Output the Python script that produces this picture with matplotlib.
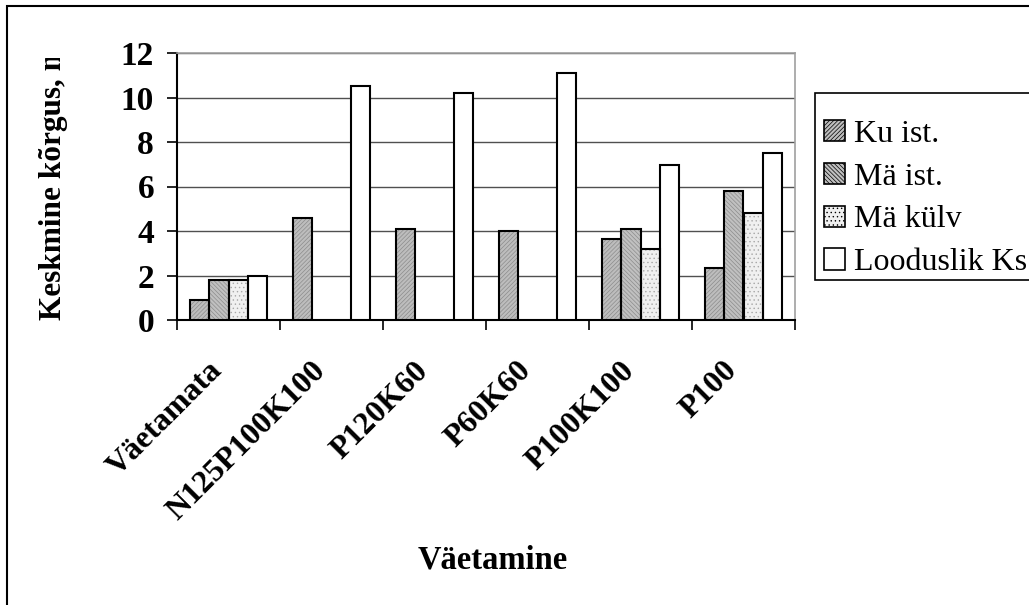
import numpy as np
import matplotlib
matplotlib.use("Agg")
import matplotlib.pyplot as plt
from matplotlib.patches import Rectangle, Patch
from matplotlib.ticker import FixedLocator

# andmed (loetud jooniselt)
kategooriad = ['Väetamata', 'N125P100K100', 'P120K60', 'P60K60', 'P100K100', 'P100']
ku_ist = [0.9, 4.6, 4.1, 4.0, 3.65, 2.35]
ma_ist = [1.8, 0, 0, 0, 4.1, 5.8]
ma_kulv = [1.8, 0, 0, 0, 3.2, 4.8]
looduslik = [2.0, 10.5, 10.2, 11.1, 6.95, 7.5]
seeria_nimed = ['Ku ist.', 'Mä ist.', 'Mä külv', 'Looduslik Ks']
y_ticks = [0, 2, 4, 6, 8, 10, 12]

plt.rcParams['font.family'] = ['Liberation Serif', 'DejaVu Serif']
plt.rcParams['hatch.linewidth'] = 0.5

W, H = 1029, 605
fig = plt.figure(figsize=(W / 100, H / 100), dpi=100)
ax = fig.add_axes([177 / W, 1 - 320 / H, (795 - 177) / W, (320 - 53) / H])

# stiilid: (täide, viirutus, viirutuse värv)
stiilid = [
    ('#bdbdbd', '////////', '#8c8c8c'),
    ('#c0c0c0', '\\\\\\\\\\\\\\\\', '#8c8c8c'),
    ('#f0f0f0', '....', '#a8a8a8'),
    ('white', None, None),
]

x = np.arange(len(kategooriad))
laius = 0.185
seeriad = [ku_ist, ma_ist, ma_kulv, looduslik]
for i, vaartused in enumerate(seeriad):
    taide, viir, vvarv = stiilid[i]
    xs = [xx + (i - 1.5) * laius for xx, v in zip(x, vaartused) if v > 0]
    vs = [v for v in vaartused if v > 0]
    if viir:
        ax.bar(xs, vs, laius, color=taide, hatch=viir, edgecolor=vvarv,
               linewidth=0, zorder=3)
    else:
        ax.bar(xs, vs, laius, color=taide, linewidth=0, zorder=3)
    ax.bar(xs, vs, laius, fill=False, edgecolor='black', linewidth=1.5, zorder=4)

ax.set_xlim(-0.5, len(kategooriad) - 0.5)
ax.set_ylim(0, 12)
ax.set_yticks(y_ticks)
ax.yaxis.grid(True, color='#505050', linewidth=1)
ax.set_axisbelow(True)

for s in ['top', 'right']:
    ax.spines[s].set_color('#a0a0a0')
    ax.spines[s].set_linewidth(1.2)
for s in ['left', 'bottom']:
    ax.spines[s].set_color('black')
    ax.spines[s].set_linewidth(1.5)

ax.set_xticks(x)
ax.set_xticklabels(kategooriad, rotation=45, ha='right', va='top',
                   fontsize=23, fontweight='bold')
ax.xaxis.set_minor_locator(FixedLocator(np.arange(len(kategooriad) + 1) - 0.5))
ax.tick_params(axis='x', which='major', length=0, pad=26)
ax.tick_params(axis='x', which='minor', length=7.5, width=1.2, direction='out')
ax.tick_params(axis='y', length=7.5, width=1.2, pad=9, labelsize=24)
for t in ax.get_yticklabels():
    t.set_fontweight('bold')

# telje pealkirjad
ylab = fig.text(54 / W, 1 - 320 / H, 'Keskmine kõrgus, m', rotation=90,
                ha='center', va='bottom', fontsize=22.5, fontweight='bold')
klipp = Rectangle((0, 0), 1, 1 - 58 / H, transform=fig.transFigure,
                  facecolor='none', edgecolor='none')
fig.add_artist(klipp)
ylab.set_clip_path(klipp)
fig.text(493 / W, 1 - 560 / H, 'Väetamine', ha='center', va='center',
         fontsize=23.5, fontweight='bold')

# legend
kasitsejad = []
for i, nimi in enumerate(seeria_nimed):
    taide, viir, vvarv = stiilid[i]
    kasitsejad.append(Patch(facecolor=taide, hatch=viir, edgecolor='black',
                            linewidth=1.2, label=nimi))
fig.add_artist(Rectangle((815 / W, 1 - 280 / H), 240 / W, (280 - 93) / H,
                         transform=fig.transFigure, facecolor='white',
                         edgecolor='black', linewidth=1.2))
fig.legend(handles=kasitsejad, loc='upper left',
           bbox_to_anchor=(824 / W, 1 - 120 / H), bbox_transform=fig.transFigure,
           frameon=False, fontsize=23, borderpad=0, borderaxespad=0,
           handlelength=0.65, handleheight=0.65, handletextpad=0.3,
           labelspacing=0.43)

# diagrammi välisraam
fig.add_artist(Rectangle((7 / W, -0.1), 1.2, 1 - 6 / H + 0.1,
                         transform=fig.transFigure, facecolor='none',
                         edgecolor='black', linewidth=1.5))

fig.savefig('out.png', dpi=100)
